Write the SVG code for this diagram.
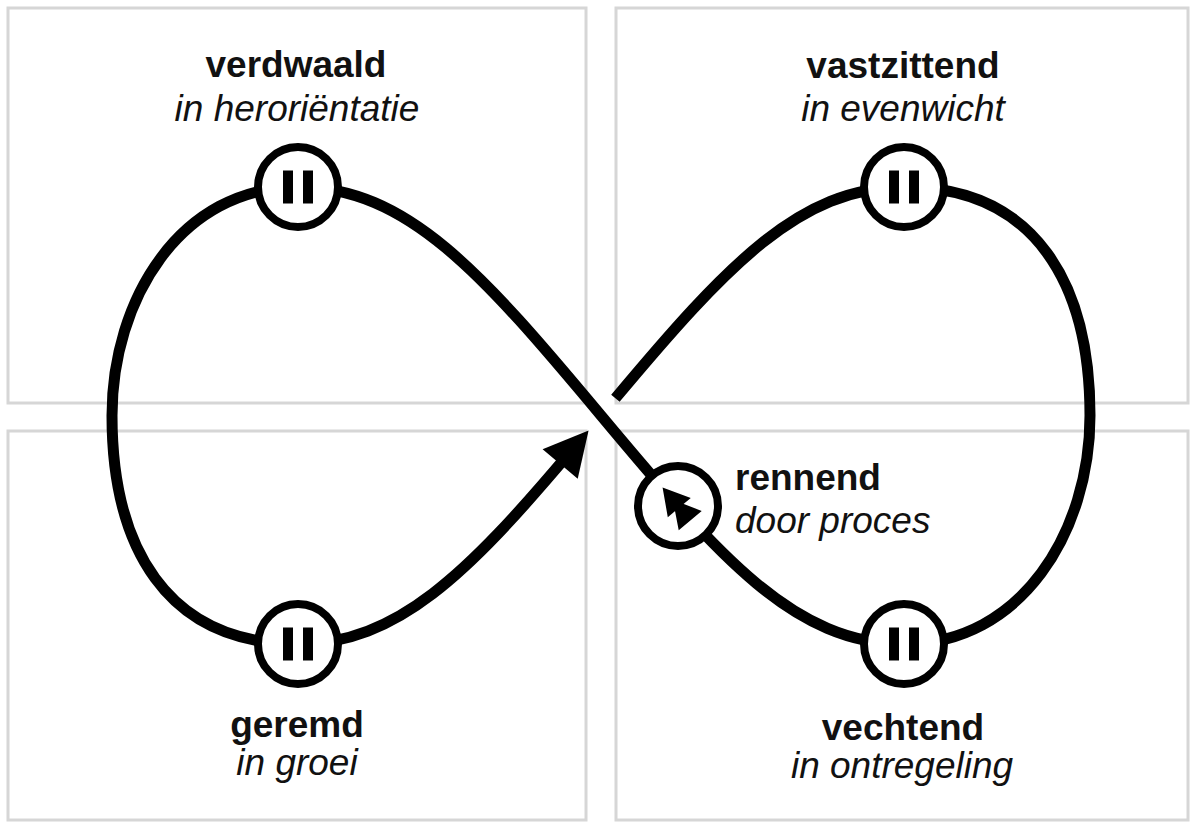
<svg xmlns="http://www.w3.org/2000/svg" width="1190" height="823" viewBox="0 0 1190 823">
<defs>
<style>
.panel{fill:none;stroke:#d6d6d6;stroke-width:3}
.line{fill:none;stroke:#000;stroke-width:11;stroke-linecap:butt}
.node{fill:#fff;stroke:#000;stroke-width:8}
.icon{fill:#000}
.t{font-family:"Liberation Sans",Arial,Helvetica,sans-serif;font-size:37px;fill:#111}
.b{font-weight:bold}
.i{font-style:italic}
.c{text-anchor:middle}
</style>
<marker id="arrow" markerUnits="userSpaceOnUse" viewBox="-20 -30 60 60" refX="0" refY="0" markerWidth="60" markerHeight="60" orient="auto">
<path d="M30,0 L-14,-23 L-14,23 Z" fill="#000"/>
</marker>
<g id="pause"><rect x="-15" y="-16.5" width="10" height="33"/><rect x="5" y="-16.5" width="10" height="33"/></g>
</defs>
<rect width="1190" height="823" fill="#fff"/>
<g id="panels">
<rect class="panel" x="8" y="8" width="578" height="395"/>
<rect class="panel" x="616" y="8" width="572" height="395"/>
<rect class="panel" x="8" y="431" width="578" height="389"/>
<rect class="panel" x="616" y="431" width="572" height="389"/>
</g>
<g id="connectors">
<path class="line" d="M298,187 C407,187 482,273 601,415.5 C720,558 795,644 904,644"/>
<path class="line" d="M298,187 C180,187 112,300 112,415.5 C112,545 165,644 298,644"/>
<path class="line" d="M904,644 C1022,644 1090,531 1090,415.5 C1090,286 1037,187 904,187"/>
<path class="line" d="M298,644 C396.97,644 467.9,573.1 569.2,453.3" marker-end="url(#arrow)"/>
<path class="line" d="M615.4,398.3 C726.2,266.1 799.5,187 904,187"/>
</g>
<g id="verdwaald">
<circle class="node" cx="298" cy="187" r="40"/>
<use href="#pause" class="icon" x="298" y="187"/>
<text class="t b c" x="296" y="77">verdwaald</text>
<text class="t i c" x="297" y="121">in heroriëntatie</text>
</g>
<g id="vastzittend">
<circle class="node" cx="904" cy="187" r="40"/>
<use href="#pause" class="icon" x="904" y="187"/>
<text class="t b c" x="903" y="78">vastzittend</text>
<text class="t i c" x="903" y="121">in evenwicht</text>
</g>
<g id="geremd">
<circle class="node" cx="298" cy="644" r="40"/>
<use href="#pause" class="icon" x="298" y="644"/>
<text class="t b c" x="297" y="737">geremd</text>
<text class="t i c" x="297" y="775">in groei</text>
</g>
<g id="vechtend">
<circle class="node" cx="904" cy="644" r="40"/>
<use href="#pause" class="icon" x="904" y="644"/>
<text class="t b c" x="903" y="740">vechtend</text>
<text class="t i c" x="902" y="778">in ontregeling</text>
</g>
<g id="rennend">
<circle class="node" cx="678" cy="506" r="40"/>
<path class="icon" transform="translate(678,506) rotate(-130)" d="M24,0 L-2,-15 L-2,15 Z M8,0 L-19,-15 L-19,15 Z"/>
<text class="t b" x="735" y="490">rennend</text>
<text class="t i" x="735" y="533">door proces</text>
</g>
</svg>
